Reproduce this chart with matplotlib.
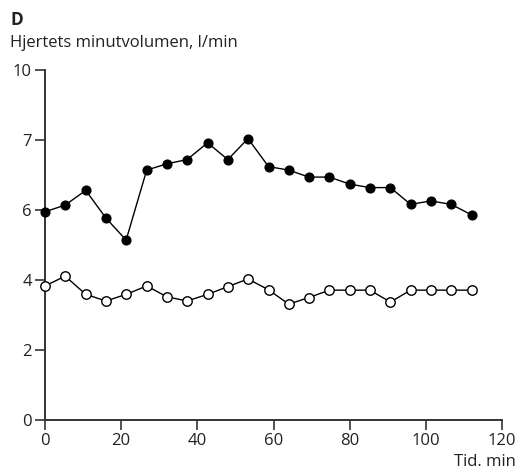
import numpy as np
import matplotlib
matplotlib.use('Agg')
import matplotlib.pyplot as plt

# ---- Data ----

tid_min = [0, 5.3, 10.7, 16, 21.3, 26.7, 32, 37.3, 42.7, 48, 53.3,
           58.7, 64, 69.3, 74.7, 80, 85.3, 90.7, 96, 101.3, 106.7, 112]

filled_series = [5.95, 6.07, 6.28, 5.77, 5.14, 6.57, 6.66, 6.72, 6.96, 6.72, 7.06,
                 6.62, 6.57, 6.47, 6.47, 6.37, 6.32, 6.32, 6.08, 6.13, 6.08, 5.86]

open_series = [3.83, 4.11, 3.59, 3.40, 3.59, 3.83, 3.52, 3.40, 3.59, 3.81, 4.03,
               3.72, 3.31, 3.50, 3.71, 3.71, 3.71, 3.37, 3.71, 3.71, 3.71, 3.71]

y_ticks = [0, 2, 4, 6, 7, 10]
x_ticks = [0, 20, 40, 60, 80, 100, 120]

# the printed axis spaces its ticks evenly even though the labels are not
tick_pos = np.arange(len(y_ticks), dtype=float)


def fwd(v):
    return np.interp(v, y_ticks, tick_pos)


def inv(p):
    return np.interp(p, tick_pos, y_ticks)


plt.rcParams['font.family'] = ['Open Sans', 'DejaVu Sans']
ink = '#222222'

fig = plt.figure(figsize=(5.17, 4.70), dpi=100)
ax = fig.add_axes([45 / 517, 50 / 470, 457 / 517, 350 / 470])

ax.plot(tid_min, filled_series, color='black', linewidth=1.0,
        marker='o', markersize=6.3, markerfacecolor='black',
        markeredgecolor='black', clip_on=False, zorder=3)
ax.plot(tid_min, open_series, color='black', linewidth=1.0,
        marker='o', markersize=6.8, markerfacecolor='white',
        markeredgecolor='black', markeredgewidth=1.0, clip_on=False, zorder=3)

ax.set_yscale('function', functions=(fwd, inv))
ax.set_ylim(0, 10)
ax.set_xlim(0, 120)
ax.set_yticks(y_ticks)
ax.set_yticklabels([str(t) for t in y_ticks])
ax.set_xticks(x_ticks)
ax.minorticks_off()

for side in ['top', 'right']:
    ax.spines[side].set_visible(False)
for side in ['left', 'bottom']:
    ax.spines[side].set_linewidth(1.4)
    ax.spines[side].set_color('#333333')

ax.tick_params(axis='both', direction='out', length=7, width=1.2,
               color='#333333', labelsize=12, labelcolor=ink, pad=2.5)

fig.text(10 / 517, 1 - 20 / 470, 'D', fontsize=12.5, fontweight='bold',
         color=ink, ha='left', va='center')
fig.text(10 / 517, 1 - 43 / 470, 'Hjertets minutvolumen, l/min', fontsize=12,
         color=ink, ha='left', va='center')
fig.text(516 / 517, 1 - 462 / 470, 'Tid. min', fontsize=12,
         color=ink, ha='right', va='center')

fig.savefig('out.png', dpi=100)
